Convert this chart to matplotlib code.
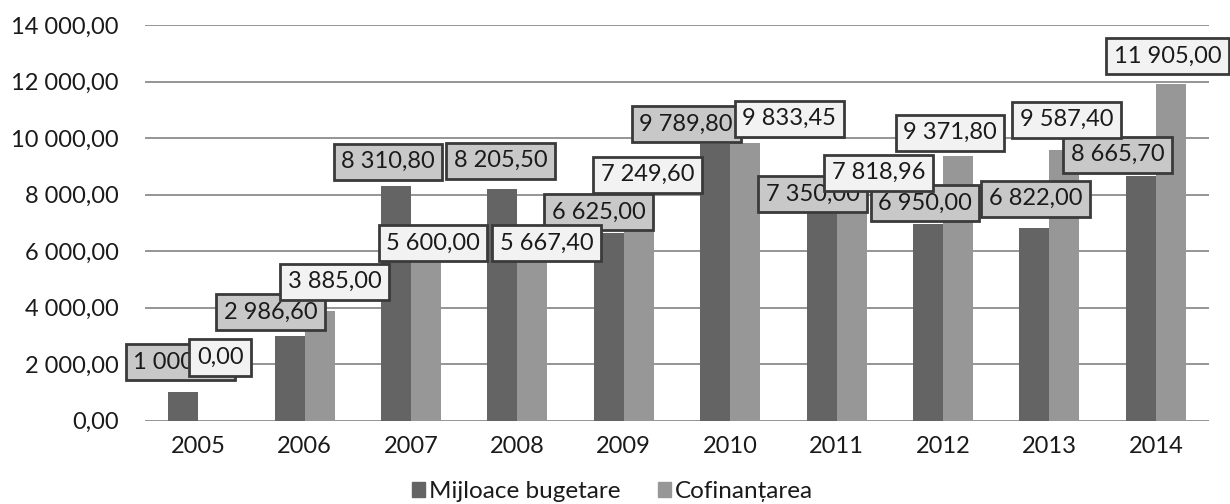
import numpy as np
import matplotlib
matplotlib.use("Agg")
import matplotlib.pyplot as plt
from matplotlib.patches import Patch

plt.rcParams['font.family'] = ['Lato', 'DejaVu Sans']

# data
years = ['2005', '2006', '2007', '2008', '2009', '2010', '2011', '2012', '2013', '2014']
buget = [1000.00, 2986.60, 8310.80, 8205.50, 6625.00, 9789.80, 7350.00, 6950.00, 6822.00, 8665.70]
cofin = [0.00, 3885.00, 5600.00, 5667.40, 7249.60, 9833.45, 7818.96, 9371.80, 9587.40, 11905.00]
series_names = ['Mijloace bugetare', 'Cofinanțarea']

# label offsets from the bar top (pixels, x right / y up), as placed in the original
buget_off = [(-3, 30), (-19, 24), (-8, 24), (-2, 28), (-10, 21), (-29, 20), (-9, 19), (-3, 21), (1, 29), (-23, 21)]
cofin_off = [(7, 63), (15, 29), (7, 19), (14, 17), (9, 41), (44, 24), (27, 27), (-8, 23), (2, 30), (-3, 28)]

c_dark = '#646464'
c_light = '#979797'


def fmt(v):
    s = f"{v:,.2f}"
    return s.replace(',', ' ').replace('.', ',')


W, H = 1230, 504
fig = plt.figure(figsize=(W / 100, H / 100), dpi=100)
ax = fig.add_axes([145 / W, 1 - 420.5 / H, (1209 - 145) / W, (420.5 - 25) / H])

x = np.arange(len(years))
w = 0.282
ax.bar(x - w / 2, buget, w, color=c_dark, zorder=2)
ax.bar(x + w / 2, cofin, w, color=c_light, zorder=2)

ax.set_xlim(-0.5, len(years) - 0.5)
ax.set_ylim(0, 14000)
ax.set_yticks(np.arange(0, 14001, 2000))
ax.set_yticklabels([fmt(v) for v in np.arange(0, 14001, 2000)])
ax.set_xticks(x)
ax.set_xticklabels(years)
ax.tick_params(axis='both', length=0, labelsize=17, colors='#1a1a1a')
ax.tick_params(axis='y', pad=19)
ax.tick_params(axis='x', pad=11)
for sp in ax.spines.values():
    sp.set_visible(False)
ax.yaxis.grid(True, color='#8c8c8c', lw=1.3)
ax.set_axisbelow(True)

# data labels: budget boxes first, co-financing boxes on top
for i, (v, off) in enumerate(zip(buget, buget_off)):
    ax.annotate(fmt(v), (x[i] - w / 2, v), xytext=off, textcoords='offset pixels',
                ha='center', va='center', fontsize=17, color='#1a1a1a', zorder=5,
                bbox=dict(boxstyle='square,pad=0.32', fc='#c8c8c8', ec='#3a3a3a', lw=2))
for i, (v, off) in enumerate(zip(cofin, cofin_off)):
    ax.annotate(fmt(v), (x[i] + w / 2, v), xytext=off, textcoords='offset pixels',
                ha='center', va='center', fontsize=17, color='#1a1a1a', zorder=6,
                bbox=dict(boxstyle='square,pad=0.32', fc='#f2f2f2', ec='#3a3a3a', lw=2))

handles = [Patch(color=c_dark, label=series_names[0]), Patch(color=c_light, label=series_names[1])]
fig.legend(handles=handles, loc='center', bbox_to_anchor=(0.498, 0.024), ncol=2, frameon=False,
           fontsize=17.5, handlelength=0.55, handleheight=0.55, handletextpad=0.15,
           columnspacing=1.55, labelcolor='#1a1a1a', borderpad=0)

fig.savefig('out.png', dpi=100)
